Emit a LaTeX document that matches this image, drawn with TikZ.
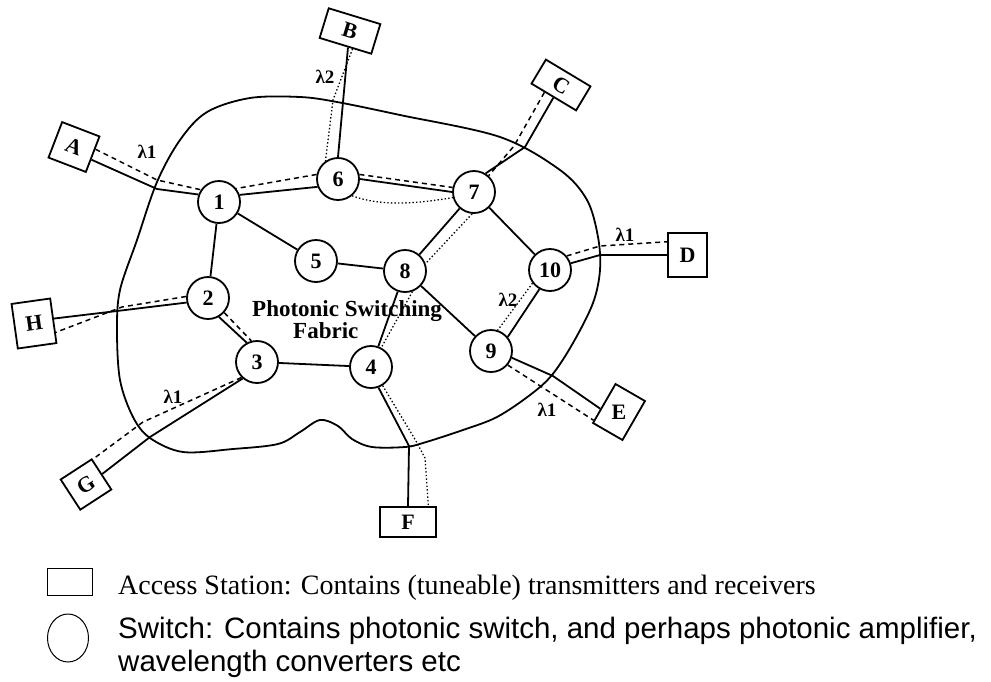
\documentclass[tikz,border=0pt]{standalone}
\usepackage{fontspec}
\setmainfont{Liberation Serif}
\newfontfamily\legsans{Liberation Sans}
\usetikzlibrary{calc,shapes.geometric}
\begin{document}
\begin{tikzpicture}[x=1pt,y=-1pt,
  sw/.style={circle,draw,line width=1.8pt,minimum size=42pt,inner sep=0pt,font=\fontsize{22}{22}\selectfont\bfseries},
  st/.style={rectangle,draw,line width=1.8pt,inner sep=0pt,font=\fontsize{22}{22}\selectfont\bfseries},
  link/.style={line width=1.8pt},
  lamA/.style={line width=1.5pt,dash pattern=on 5pt off 4pt},
  lamB/.style={line width=1.3pt,dash pattern=on 1.4pt off 2.2pt},
  lab/.style={font=\fontsize{19}{19}\selectfont\bfseries,inner sep=0pt},
  legtxt/.style={anchor=base west,inner sep=0pt}
]
\useasboundingbox (0,0) rectangle (991,681);

% fabric outline
\draw[line width=1.8pt] plot[smooth cycle, tension=0.55] coordinates {(137,240) (157,182) (180,140) (207,112) (250,98) (300,97) (337,102) (400,115) (500,137) (560,170) (587,200) (598,237) (600,270) (593,303) (573,343) (552,375) (530,395) (497,417) (463,430) (423,443) (405,447) (372,447) (352,439) (338,426) (320,420) (300,432) (278,444) (233,449) (183,452) (150,438) (133,417) (120,380) (117,330) (120,290)};

% switches
\node[sw] (n1) at (219,202) {1};
\node[sw] (n6) at (338,179) {6};
\node[sw] (n7) at (474,192) {7};
\node[sw] (n5) at (316,261) {5};
\node[sw] (n8) at (405,271) {8};
\node[sw] (n10) at (550,270) {10};
\node[sw] (n2) at (208,298) {2};
\node[sw] (n3) at (257,362) {3};
\node[sw] (n4) at (371,367) {4};
\node[sw] (n9) at (491,351) {9};

% access stations
\node[st,minimum width=40pt,minimum height=38pt,rotate=-21] (A) at (74,147) {A};
\node[st,minimum width=54pt,minimum height=31pt,rotate=-17] (B) at (350,31) {B};
\node[st,minimum width=52pt,minimum height=28pt,rotate=-31] (C) at (561,85) {C};
\node[st,minimum width=39pt,minimum height=44pt] (D) at (687.5,255) {D};
\node[st,minimum width=34pt,minimum height=45pt,rotate=-30] (E) at (619,412) {\rotatebox{30}{E}};
\node[st,minimum width=56pt,minimum height=30pt] (F) at (408,522) {F};
\node[st,minimum width=37pt,minimum height=36pt,rotate=33] (G) at (86,484.5) {G};
\node[st,minimum width=39pt,minimum height=45pt,rotate=8] (H) at (34,323.5) {H};

% crossing points on the fabric border
\coordinate (xa1) at (157,189);
\coordinate (xa2) at (157,180);
\coordinate (xb) at (333,100);
\coordinate (xc1) at (525,147);
\coordinate (xc2) at (514,146);
\coordinate (xd1) at (600,255);
\coordinate (xd2) at (600,246);
\coordinate (xe1) at (553,376);
\coordinate (xf1) at (409,446);
\coordinate (xf2) at (416,441);
\coordinate (xf3) at (425,458);
\coordinate (xg1) at (150,437);
\coordinate (xg2) at (143,422);
\coordinate (xh1) at (117,311);
\coordinate (xh2) at (122,307);

% inner links
\draw[link] (n1) -- (n5);
\draw[link] (n1) -- (n2);
\draw[link] (n5) -- (n8);
\draw[link] (n7) -- (n8);
\draw[link] (n7) -- (n10);
\draw[link] (n8) -- (n9);
\draw[link] (n8) -- (n4);
\draw[link] (n3) -- (n4);
\draw[link] (n1.19) -- (n6.201);
\draw[link] (n6.0) -- (n7.180);
\draw[link] (n2.-60) -- (n3.118);
\draw[link] (n10.241) -- (n9.40);

% station links
\draw[link] (A.-15) -- (xa1) -- (n1.160);
\draw[link] (B.-80) -- (n6.90);
\draw[link] (C.south) -- (xc1) -- (n7.58);
\draw[link] (n10.18) -- (xd1) -- (D.west);
\draw[link] (n9.-18) -- (xe1) -- (E.200);
\draw[link] (n4.-70) -- (xf1) -- (F.north);
\draw[link] (n3.229) -- (xg1) -- (G.east);
\draw[link] (n2.192) -- (xh1) -- (H.6);

% lambda 1 paths (dashed)
\draw[lamA] (A.15) -- (xa2) -- (n1.146);
\draw[lamA] (n6.168) -- (n1.38);
\draw[lamA] (n6.12) -- (n7.168);
\draw[lamA] (C.-125) -- (xc2) -- (n7.48);
\draw[lamA] (n10.40) -- (xd2) -- (D.147);
\draw[lamA] (n9.-40) -- (E.228);
\draw[lamA] (n2.176) -- (xh2) -- (H.-30);
\draw[lamA] (n2.-42) -- (n3.105);
\draw[lamA] (n3.225) -- (xg2) -- (G.42);

% lambda 2 paths (dotted)
\draw[lamB] (B.-65) -- (xb) -- (n6.125);
\draw[lamB] (n6.-50) .. controls (385,208) and (425,202) .. (n7.195);
\draw[lamB] (n7.265) -- (n8.20);
\draw[lamB] (n8.-70) -- (n4.62);
\draw[lamB] (n4.-58) -- (xf2) -- (xf3) -- (F.38);
\draw[lamB] (n10.217) -- (n9.72);

% wavelength labels
\node[lab] (lA) at (147,152) {λ1};
\node[lab] (lB) at (325,77) {λ2};
\node[lab] (lD) at (625,235) {λ1};
\node[lab] (l109) at (508,300) {λ2};
\node[lab] (lE) at (547,410) {λ1};
\node[lab] (lG) at (173,397) {λ1};

% fabric caption
\node[legtxt,font=\fontsize{23}{23}\selectfont\bfseries] (fab1) at (252,316) {Photonic Switching};
\node[legtxt,font=\fontsize{23}{23}\selectfont\bfseries] (fab2) at (293,338) {Fabric};

% legend
\node[draw,line width=1pt,minimum width=45pt,minimum height=27pt,inner sep=0pt] (legbox) at (69.5,581.5) {};
\node[draw,ellipse,line width=1pt,minimum width=41pt,minimum height=48pt,inner sep=0pt] (legcirc) at (68,638) {};
\node[legtxt,font=\fontsize{28}{28}\selectfont] (leg1) at (118,594) {Access Station: Contains (tuneable) transmitters and receivers};
\node[legtxt,font=\legsans\fontsize{29.5}{29.5}\selectfont] (leg2) at (118,638) {Switch: Contains photonic switch, and perhaps photonic amplifier,};
\node[legtxt,font=\legsans\fontsize{29.5}{29.5}\selectfont] (leg3) at (118,671) {wavelength converters etc};
\end{tikzpicture}
\end{document}
